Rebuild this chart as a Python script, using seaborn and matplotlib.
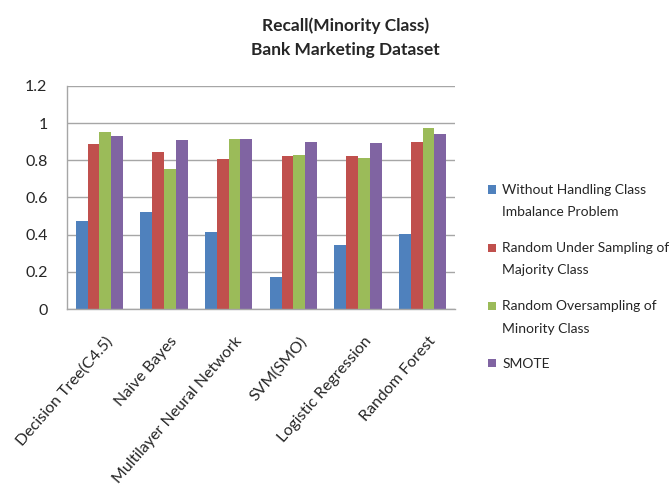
import matplotlib
matplotlib.use("Agg")
import matplotlib.pyplot as plt
import matplotlib.transforms as mtransforms
import seaborn as sns
import pandas as pd
from matplotlib.patches import Patch, Rectangle
from matplotlib.legend_handler import HandlerPatch

classifiers = ["Decision Tree(C4.5)", "Naive Bayes", "Multilayer Neural Network",
               "SVM(SMO)", "Logistic Regression", "Random Forest"]
series_names = ["Without Handling Class\nImbalance Problem",
                "Random Under Sampling of\nMajority Class",
                "Random Oversampling of\nMinority Class",
                "SMOTE"]
without = [0.475, 0.521, 0.414, 0.172, 0.346, 0.405]
under = [0.887, 0.847, 0.808, 0.824, 0.824, 0.901]
over = [0.955, 0.753, 0.914, 0.830, 0.815, 0.976]
smote = [0.932, 0.910, 0.914, 0.901, 0.892, 0.941]
colors = ["#4F81BD", "#C0504D", "#9BBB59", "#8064A2"]
yticks = [0, 0.2, 0.4, 0.6, 0.8, 1, 1.2]
ytick_labels = ["0", "0.2", "0.4", "0.6", "0.8", "1", "1.2"]

rows = []
for name, vals in zip(series_names, [without, under, over, smote]):
    for c, v in zip(classifiers, vals):
        rows.append({"Classifier": c, "Method": name, "Recall": v})
df = pd.DataFrame(rows)

sns.set_theme(style="white")
plt.rcParams['font.family'] = ['Lato', 'DejaVu Sans']

fig = plt.figure(figsize=(6.72, 4.86), dpi=100)
ax = fig.add_axes([67/672, 1-309/486, (455-67)/672, (309-86)/486])
sns.barplot(data=df, x="Classifier", y="Recall", hue="Method", palette=colors,
            width=0.73, ax=ax, saturation=1, legend=False, edgecolor="none")
ax.set_ylim(0, 1.2)
ax.set_yticks(yticks)
ax.set_yticklabels(ytick_labels, fontsize=11.5)
ax.set_xlim(-0.5, 5.5)
ax.yaxis.grid(True, color="#A6A6A6", linewidth=1)
ax.set_axisbelow(True)
ax.set_xlabel("")
ax.set_ylabel("")
for s in ["top", "right"]:
    ax.spines[s].set_visible(False)
for s in ["left", "bottom"]:
    ax.spines[s].set_color("#A6A6A6")
    ax.spines[s].set_linewidth(1)
ax.tick_params(axis="y", length=0, pad=14)
ax.tick_params(axis="x", length=0, pad=18)
shift = mtransforms.ScaledTranslation(4/72, 0, fig.dpi_scale_trans)
for lbl in ax.get_xticklabels():
    lbl.set_rotation(49)
    lbl.set_ha("right")
    lbl.set_rotation_mode("anchor")
    lbl.set_fontsize(11.5)
    lbl.set_transform(lbl.get_transform() + shift)

fig.text(0.514, 0.922, "Recall(Minority Class)\nBank Marketing Dataset", ha="center",
         va="center", fontsize=12.5, fontweight="bold", linespacing=1.6)


class TopHandler(HandlerPatch):
    def __init__(self, dy, **kw):
        super().__init__(**kw)
        self.dy = dy

    def create_artists(self, legend, orig_handle, xdescent, ydescent, width,
                       height, fontsize, trans):
        p = Rectangle((-xdescent, -ydescent + self.dy), width, height,
                      facecolor=orig_handle.get_facecolor(), edgecolor="none",
                      transform=trans)
        return [p]


handles = [Patch(facecolor=c, edgecolor="none") for c in colors]
hmap = {h: TopHandler(8.3 if "\n" in n else 0.0) for h, n in zip(handles, series_names)}
leg = fig.legend(handles, series_names, loc="center left", bbox_to_anchor=(0.708, 0.43),
                 frameon=False, fontsize=10, handlelength=0.55, handleheight=0.55,
                 labelspacing=1.7, handletextpad=0.45, handler_map=hmap)
for t in leg.get_texts():
    t.set_linespacing(2.05)

fig.savefig("out.png", dpi=100)
